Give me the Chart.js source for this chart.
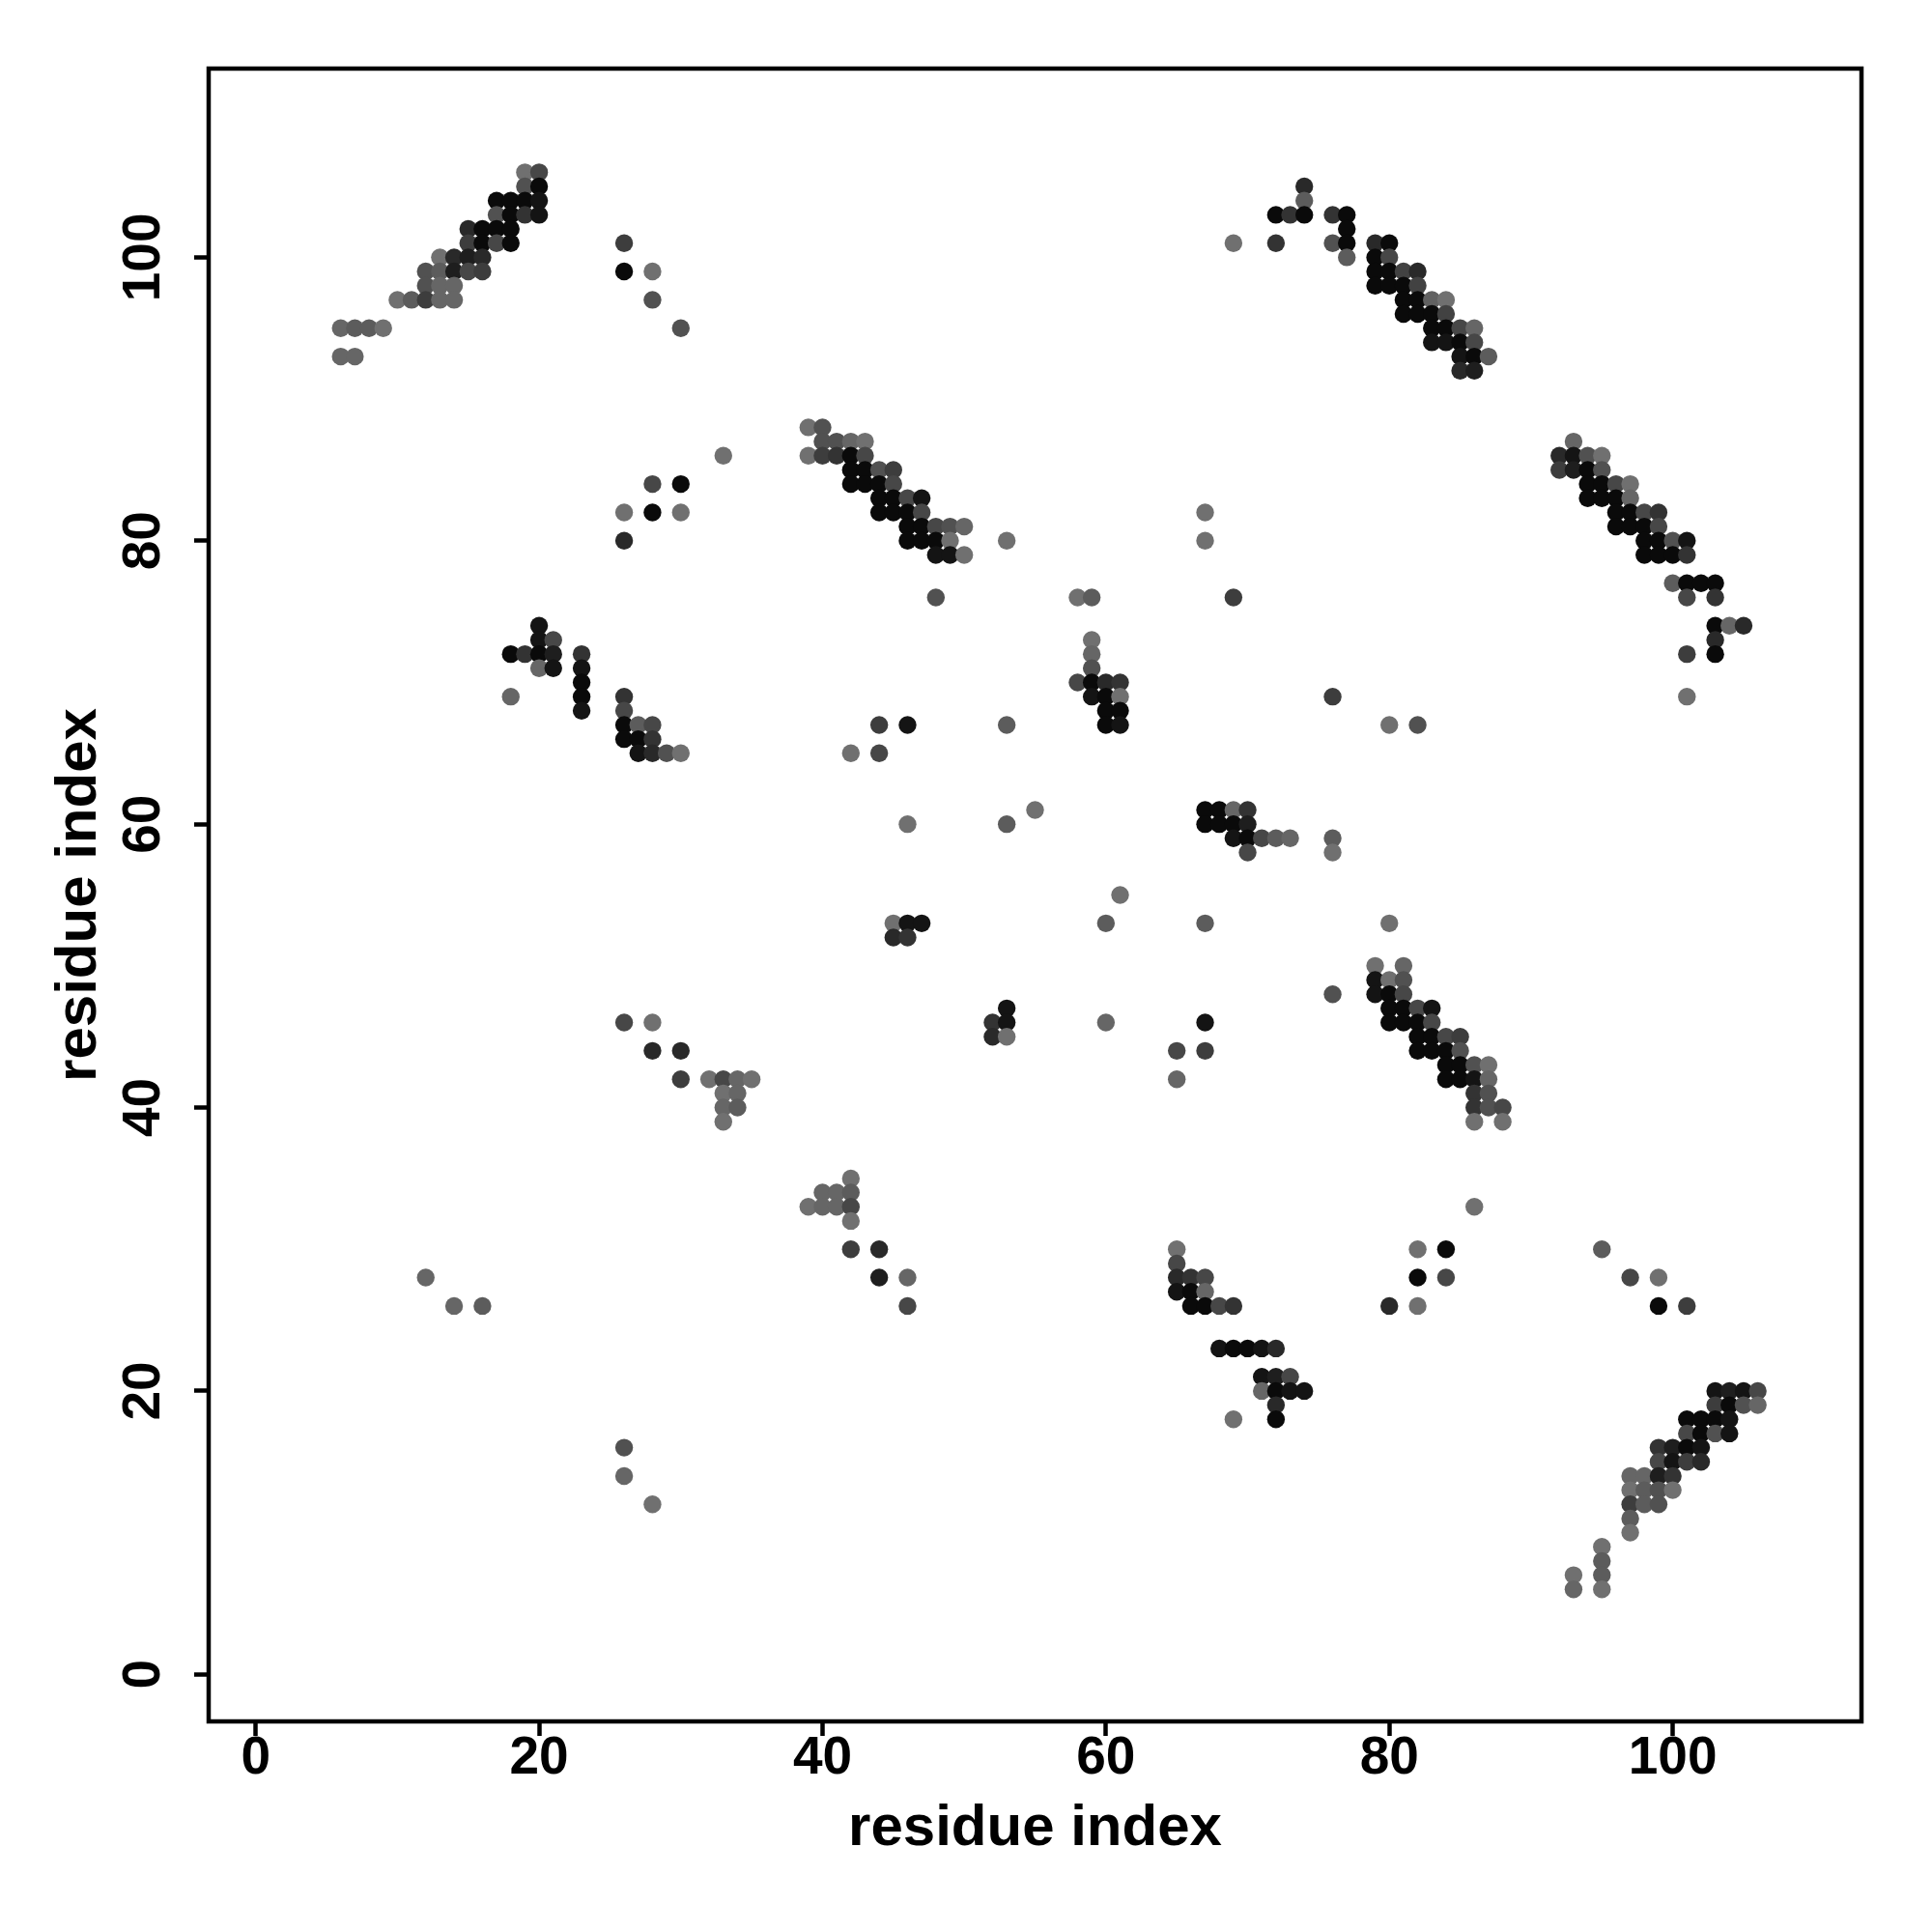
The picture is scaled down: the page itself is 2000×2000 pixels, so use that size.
<!DOCTYPE html>
<html>
<head>
<meta charset="utf-8">
<title>Contact map</title>
<script src="https://cdn.jsdelivr.net/npm/chart.js@4.4.0/dist/chart.umd.min.js"></script>
<style>
    html, body { margin: 0; padding: 0; background: #ffffff; }
    #wrap { width: 2000px; height: 2000px; }
</style>
</head>
<body>
<div id="wrap"><canvas id="contactChart" width="2000" height="2000"></canvas></div>
<script>
// residue pairs, one line per cluster (x, y, contact score 0..1)
const residueX = [
    19,20, 19,20, 17,18,19,20, 17,18,19,20, 15,16,17,18, 15,16,17,18, 13,14,15,16, 12,13,14,15,16, 12,13,14, 10,11,12,13,14, 6,7,8,9, 6,7,
    26,26,28,28,30, 28,30,26,28,30,26,33,
    39,40, 40,41,42,43, 39,40,41,42,43, 42,43,44,45, 42,43,44,45, 44,45,46,47, 44,45,46,47, 46,47,48,49,50, 46,47,48,49, 48,49,50, 48,53,
    20, 20,21, 18,19,20,21,23, 20,21,23, 23, 23,18, 23,
    26,26,26,26, 27,27,27, 28,28,28, 29,30, 44,46,53, 42,44, 46,
    58,59,69, 59,59,59, 58,59,60,61, 59,60,61, 60,61, 60,61, 76, 80,82, 67,67,
    67,68,69,70, 67,68,69,70, 69,70,71,72,73, 70, 76,76, 55,53, 61, 60,67,80,
    45,46,47,45,46, 53,52,53,52,53, 26,28,28,30,30, 32,33,34,35, 33,34,33,34,33, 60,67,65,67,65, 76,
    79,81, 79,80,81, 79,80,81, 80,81,82,83, 80,81,82,83, 82,83,84,85, 82,83,84,85, 84,85,86,87, 84,85,86,87, 86,87, 86,87,88, 86,88,
    12,14,16, 26,26,28, 42,40,41,42, 39,40,41,42, 42, 42,44,44,46,46,
    65,65,65,66,67, 65,66,67, 66,67,68,69, 68,69,70,71,72, 71,72,73, 71,72,73,74, 72, 69,72, 86,82,84,82,84,80,82,
    95,97,99,99,101, 103,104,105,106, 103,104,105,106, 101,102,103,104, 101,102,103,104, 99,100,101,102, 99,100,101,102, 97,98,99,100, 97,98,99,100, 97,98,99, 97, 97, 95,95,93,95,93,95,
    74,74,72,73,74, 69,72, 76,77,77,76,77,77, 79,80, 79,80, 79,80,81,82, 79,80,81,82, 81,82,83,84, 81,82,83,84, 83,84,85,86, 83,84,85,86, 85,86,87, 85,86,
    93, 92,93,94,95, 92,93,94,95, 94,95,96,97, 94,95,96,97, 96,97,98,99, 96,97,98,99, 98,99,100,101, 98,99,100,101, 100,101,102,103, 101,103, 103,104,105, 103, 101,103, 101
];

const residueY = [
    106,106, 105,105, 104,104,104,104, 103,103,103,103, 102,102,102,102, 101,101,101,101, 100,100,100,100, 99,99,99,99,99, 98,98,98, 97,97,97,97,97, 95,95,95,95, 93,93,
    101,99,99,97,95, 84,84,82,82,82,80,86,
    88,88, 87,87,87,87, 86,86,86,86,86, 85,85,85,85, 84,84,84,84, 83,83,83,83, 82,82,82,82, 81,81,81,81,81, 80,80,80,80, 79,79,79, 76,80,
    74, 73,73, 72,72,72,72,72, 71,71,71, 70, 69,69, 68,
    69,68,67,66, 67,66,65, 67,66,65, 65,65, 67,67,67, 65,65, 60,
    76,76,76, 73,72,71, 70,70,70,70, 69,69,69, 68,68, 67,67, 69, 67,67, 82,80,
    61,61,61,61, 60,60,60,60, 59,59,59,59,59, 58, 59,58, 61,60, 55, 53,53,53,
    53,53,53,52,52, 47,46,46,45,45, 46,46,44,44,42, 42,42,42,42, 41,41,40,40,39, 46,46,44,44,42, 48,
    50,50, 49,49,49, 48,48,48, 47,47,47,47, 46,46,46,46, 45,45,45,45, 44,44,44,44, 43,43,43,43, 42,42,42,42, 41,41, 40,40,40, 39,39,
    28,26,26, 16,14,12, 35,34,34,34, 33,33,33,33, 32, 30,30,28,28,26,
    30,29,28,28,28, 27,27,27, 26,26,26,26, 23,23,23,23,23, 21,21,21, 20,20,20,20, 19, 18,18, 33,30,30,28,28,26,26,
    30,28,28,26,26, 20,20,20,20, 19,19,19,19, 18,18,18,18, 17,17,17,17, 16,16,16,16, 15,15,15,15, 14,14,14,14, 13,13,13,13, 12,12,12, 11, 10, 9,8,7,7,6,6,
    105,104,103,103,103, 101,101, 103,103,102,101,101,100, 101,101, 100,100, 99,99,99,99, 98,98,98,98, 97,97,97,97, 96,96,96,96, 95,95,95,95, 94,94,94,94, 93,93,93, 92,92,
    87, 86,86,86,86, 85,85,85,85, 84,84,84,84, 83,83,83,83, 82,82,82,82, 81,81,81,81, 80,80,80,80, 79,79,79,79, 77,77,77,77, 76,76, 74,74,74, 73, 72,72, 69
];

const contactScore = [
    0,0.4, 0.3,1, 1,1,1,0.9, 0.3,1,0.6,0.9, 0.7,1,1,1, 0.5,1,0.4,1, 0,0.7,0.8,0.7, 0.3,0.2,0.8,0.4,0.5, 0.3,0.1,0.1, 0,0.2,0.5,0.1,0.1, 0.1,0.2,0.2,0, 0.1,0.1,
    0.5,1,0,0.3,0.3, 0.4,1,0,1,0,0.7,0,
    0,0.3, 0.3,0.3,0.1,0, 0,0.5,0.6,1,0.4, 1,1,0.3,0.5, 1,1,1,0.4, 1,1,0.4,0.9, 1,1,1,0.4, 1,1,0.4,0.3,0.1, 1,1,1,0, 0.9,0.9,0, 0.3,0,
    0.9, 0.9,0.4, 1,0.6,1,0.8,0.6, 0.1,0.9,0.9, 1, 1,0.1, 0.9,
    0.6,0.4,1,1, 0.2,1,0.9, 0.4,0.6,0.7, 0.3,0, 0.5,0.9,0.2, 0,0.4, 0,
    0,0.2,0.5, 0,0.1,0.3, 0.4,1,0.7,0.6, 0.9,1,0, 1,1, 1,0.9, 0.5, 0,0.3, 0,0,
    1,1,0.1,0.6, 1,1,1,0.8, 0.9,1,0.4,0.2,0.1, 0.4, 0.2,0, 0,0.2, 0, 0.2,0.2,0,
    0,0.9,0.9,0.7,0.6, 0.9,0.6,0.9,0.7,0, 0.4,0,0.7,0.7,0.5, 0,0.4,0.1,0, 0,0.1,0.1,0.2,0, 0.1,0.9,0.4,0.5,0.1, 0.3,
    0,0.1, 0.9,0,0.3, 0.9,1,0.4, 1,1,0.4,0.9, 1,1,1,0.4, 1,1,0.4,0.5, 1,1,1,0.3, 1,1,0.3,0, 1,1,0.9,0.1, 0.6,0.3, 0.6,0.3,0.4, 0,0,
    0.1,0.1,0.2, 0.3,0.1,0, 0,0.1,0.1,0.2, 0,0.1,0.1,0.4, 0, 0.5,0.7,0.8,0.1,0.4,
    0,0.4,0.7,0.6,0.4, 0.9,1,0.1, 1,1,0.4,0.6, 0.9,1,1,0.9,0.7, 0.9,0.8,0.4, 0.1,1,0.9,0.9, 0.7, 0,1, 0,0,1,1,0.4,0.7,0,
    0.2,0.4,0,1,0.5, 0.9,0.8,0.9,0.4, 0.5,1,0.3,0.1, 1,1,1,0.9, 0.4,1,0.3,0.9, 0.6,0.8,1,0.9, 0.4,0.9,0.5,0.7, 0.1,0.1,0.8,0.6, 0,0.2,0.3,0, 0.5,0.2,0.3, 0.2, 0, 0,0.2,0,0.2,0.1,0,
    0.7,0.2,1,0.6,1, 0,0.6, 0.6,1,1,0.3,1,0.2, 0.7,1, 1,0.4, 1,1,0.45,0.7, 1,1,1,0.45, 1,1,0.15,0, 1,1,1,0.45, 1,1,0.4,0.1, 0.9,0.9,1,0.4, 0.9,1,0.2, 0.7,0.8,
    0.1, 0.7,0.9,0.3,0, 0.5,0.8,1,0.3, 1,1,0.4,0, 1,1,1,0.1, 1,1,0.4,0.6, 1,1,1,0.4, 1,1,0.3,0.9, 1,1,1,0.6, 0.2,1,1,1, 0.4,0.6, 1,0.1,0.7, 0.7, 0.5,1, 0
];

const tickValues = [0, 20, 40, 60, 80, 100];
const axisTitle = 'residue index';

if (residueX.length !== residueY.length || residueX.length !== contactScore.length)
{
    throw new Error('array lengths differ: ' + residueX.length + ' ' + residueY.length + ' ' + contactScore.length);
}

const fontFamily = '"Liberation Sans", Arial, Helvetica, sans-serif';

function scoreToGray(s)
{
    const g = Math.round(112 - s * 102);
    return 'rgb(' + g + ',' + g + ',' + g + ')';
}

const points = residueX.map((x, i) => ({ x: x, y: residueY[i] }));
const colors = contactScore.map(scoreToGray);

// black frame round the plot region
const boxFrame = {
    id: 'boxFrame',
    afterDraw(chart)
    {
        const a = chart.chartArea;
        const ctx = chart.ctx;
        ctx.save();
        ctx.strokeStyle = '#000000';
        ctx.lineWidth = 4.5;
        ctx.strokeRect(a.left, a.top, a.right - a.left, a.bottom - a.top);
        ctx.restore();
    }
};

function setTicks(scale)
{
    scale.ticks = tickValues.map(v => ({ value: v }));
}

const ctx = document.getElementById('contactChart').getContext('2d');
new Chart(ctx, {
    type: 'scatter',
    data:
    {
        datasets:
        [{
            data: points,
            backgroundColor: colors,
            borderWidth: 0,
            pointRadius: 9.2,
            pointHoverRadius: 9.2,
            pointStyle: 'circle'
        }]
    },
    options:
    {
        responsive: false,
        animation: false,
        devicePixelRatio: 1,
        layout: { padding: { top: 71, right: 73, left: 0, bottom: 0 } },
        plugins:
        {
            legend: { display: false },
            tooltip: { enabled: false }
        },
        scales:
        {
            x:
            {
                type: 'linear',
                position: 'bottom',
                min: -3.32,
                max: 113.32,
                afterBuildTicks: setTicks,
                afterFit: (s) => { s.height = 218; },
                border: { display: false },
                grid: { drawOnChartArea: false, drawTicks: true, tickLength: 15, tickWidth: 4.5, tickColor: '#000000' },
                ticks:
                {
                    color: '#000000',
                    autoSkip: false,
                    minRotation: 0,
                    maxRotation: 0,
                    padding: -9,
                    font: { family: fontFamily, size: 55, weight: 'bold' }
                },
                title:
                {
                    display: true,
                    text: axisTitle,
                    color: '#000000',
                    padding: { top: 0, bottom: 71 },
                    font: { family: fontFamily, size: 60, weight: 'bold' }
                }
            },
            y:
            {
                type: 'linear',
                position: 'left',
                min: -3.32,
                max: 113.32,
                afterBuildTicks: setTicks,
                afterFit: (s) => { s.width = 216; },
                border: { display: false },
                grid: { drawOnChartArea: false, drawTicks: true, tickLength: 15, tickWidth: 4.5, tickColor: '#000000' },
                ticks:
                {
                    color: '#000000',
                    autoSkip: false,
                    minRotation: 90,
                    maxRotation: 90,
                    crossAlign: 'center',
                    padding: 5,
                    font: { family: fontFamily, size: 55, weight: 'bold' }
                },
                title:
                {
                    display: true,
                    text: axisTitle,
                    color: '#000000',
                    padding: { top: 46, bottom: 0 },
                    font: { family: fontFamily, size: 60, weight: 'bold' }
                }
            }
        }
    },
    plugins: [boxFrame]
});
</script>
</body>
</html>
